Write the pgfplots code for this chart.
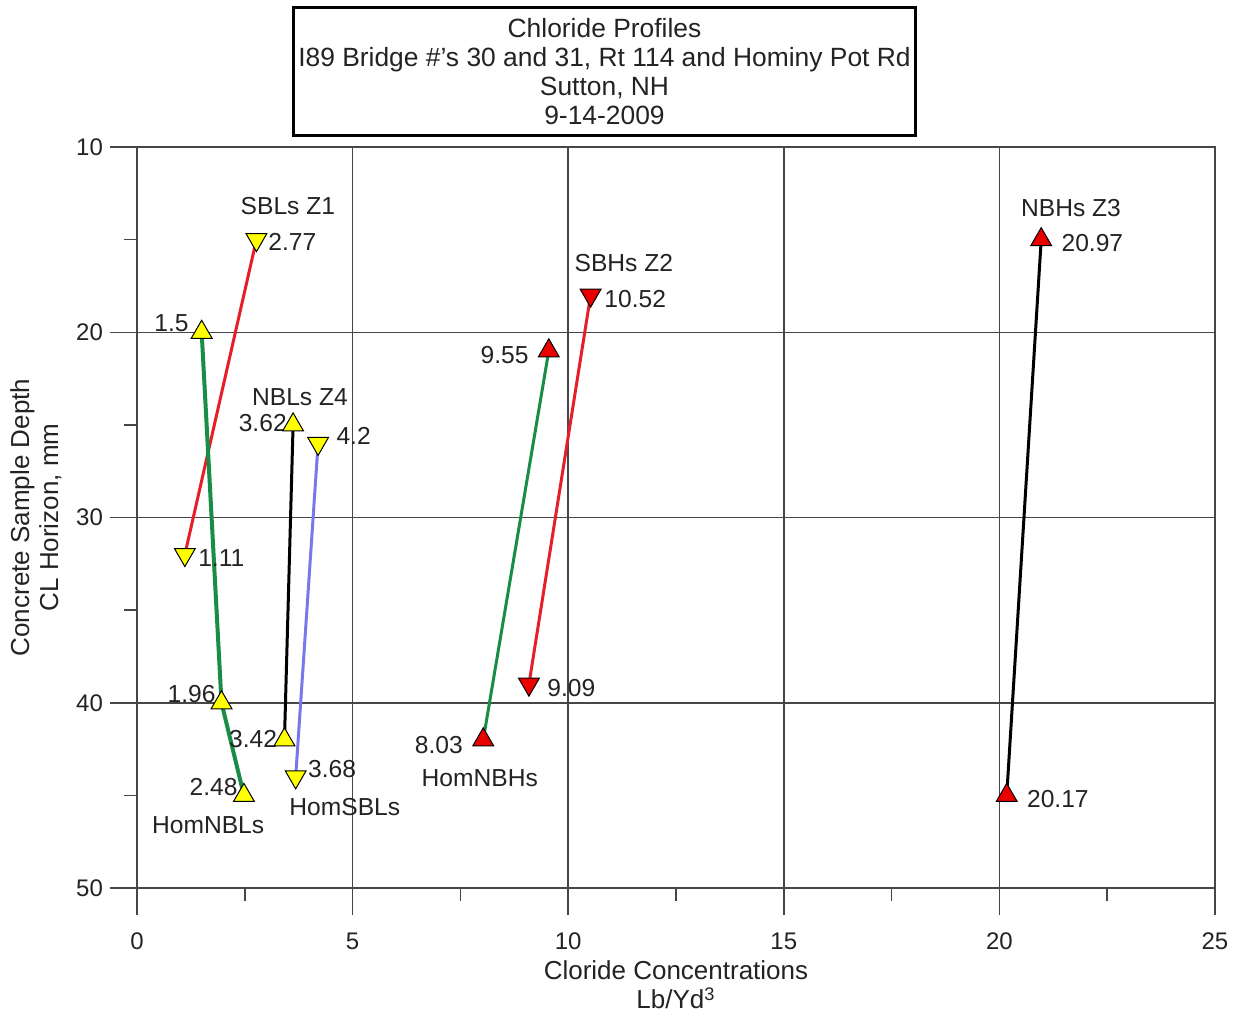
\documentclass[border=0pt]{standalone}
\usepackage{fontspec}
\setmainfont{Liberation Sans}
\usepackage{pgfplots}
\pgfplotsset{compat=1.18}
\definecolor{gridgray}{RGB}{70,70,70}
\definecolor{lred}{RGB}{230,30,40}
\definecolor{lgreen}{RGB}{25,140,70}
\definecolor{lblue}{RGB}{120,120,235}
\definecolor{myyellow}{RGB}{255,255,0}
\definecolor{myred}{RGB}{235,0,0}
\definecolor{txt}{RGB}{35,35,35}
\begin{document}
\begin{tikzpicture}
\useasboundingbox (-68.5pt,-65.5pt) rectangle (551pt,444pt);
\begin{axis}[
 at={(0,0)}, anchor=south west,
 scale only axis, width=539pt, height=370.5pt,
 xmin=0, xmax=25, ymin=10, ymax=50, y dir=reverse,
 xtick={0,5,...,25}, ytick={10,20,...,50},
 minor x tick num=1, minor y tick num=1,
 tick pos=left, tick align=outside,
 major tick length=13.5pt, minor tick length=6.5pt,
 grid=major,
 major grid style={gridgray, line width=0.75pt},
 axis line style={gridgray, line width=0.75pt},
 every tick/.style={gridgray, line width=0.75pt},
 tick label style={font=\fontsize{12}{14}\selectfont, text=txt},
 xticklabel style={yshift=-5.5pt},
 /pgf/number format/assume math mode=true,
 xlabel={Cloride Concentrations\\Lb/Yd\textsuperscript{3}},
 ylabel={Concrete Sample Depth\\CL Horizon, mm},
 label style={font=\fontsize{13}{14.5}\selectfont, align=center, text=txt},
 xlabel style={at={(axis description cs:0.5,-0.1309)}, anchor=center},
 ylabel style={at={(axis description cs:-0.0937,0.5)}, anchor=center},
 clip=false,
 mark size=6pt,
]
% SBLs Z1
\addplot[lred, line width=1.5pt, mark=triangle*, mark options={fill=myyellow, draw=black, line width=0.5pt, rotate=180}] coordinates {(2.77,15) (1.11,32)};
% HomNBLs
\addplot[lgreen, line width=2pt, mark=triangle*, mark options={fill=myyellow, draw=black, line width=0.5pt}] coordinates {(1.5,20) (1.96,40) (2.48,45)};
% NBLs Z4
\addplot[black, line width=1.5pt, mark=triangle*, mark options={fill=myyellow, draw=black, line width=0.5pt}] coordinates {(3.62,25) (3.42,42)};
% HomSBLs
\addplot[lblue, line width=1.5pt, mark=triangle*, mark options={fill=myyellow, draw=black, line width=0.5pt, rotate=180}] coordinates {(4.2,26) (3.68,44)};
% SBHs Z2
\addplot[lred, line width=1.5pt, mark=triangle*, mark options={fill=myred, draw=black, line width=0.5pt, rotate=180}] coordinates {(10.52,18) (9.09,39)};
% HomNBHs
\addplot[lgreen, line width=1.5pt, mark=triangle*, mark options={fill=myred, draw=black, line width=0.5pt}] coordinates {(9.55,21) (8.03,42)};
% NBHs Z3
\addplot[black, line width=1.5pt, mark=triangle*, mark options={fill=myred, draw=black, line width=0.5pt}] coordinates {(20.97,15) (20.17,45)};

\begin{scope}[every node/.style={font=\fontsize{12.3}{14}\selectfont, text=txt, inner sep=0pt}]
% value labels
\node[anchor=west, xshift=5.8pt, yshift=-1pt] at (axis cs:2.77,15) {2.77};
\node[anchor=west, xshift=6.5pt, yshift=-1.7pt] at (axis cs:1.11,32) {1.11};
\node[anchor=east, xshift=-6.3pt, yshift=4.5pt] at (axis cs:1.5,20) {1.5};
\node[anchor=east, xshift=-2.8pt, yshift=4.5pt] at (axis cs:1.96,40) {1.96};
\node[anchor=east, xshift=-3pt, yshift=4pt] at (axis cs:2.48,45) {2.48};
\node[anchor=east, xshift=-3pt, yshift=1pt] at (axis cs:3.62,25) {3.62};
\node[anchor=west, xshift=9pt, yshift=4pt] at (axis cs:4.2,26) {4.2};
\node[anchor=east, xshift=-3.5pt, yshift=0.5pt] at (axis cs:3.42,42) {3.42};
\node[anchor=west, xshift=6pt, yshift=4pt] at (axis cs:3.68,44) {3.68};
\node[anchor=west, xshift=6.7pt, yshift=-2pt] at (axis cs:10.52,18) {10.52};
\node[anchor=east, xshift=-9.9pt, yshift=-2pt] at (axis cs:9.55,21) {9.55};
\node[anchor=west, xshift=9pt, yshift=-2pt] at (axis cs:9.09,39) {9.09};
\node[anchor=east, xshift=-10pt, yshift=-2.5pt] at (axis cs:8.03,42) {8.03};
\node[anchor=west, xshift=10pt, yshift=-1.5pt] at (axis cs:20.97,15) {20.97};
\node[anchor=west, xshift=10pt, yshift=-2pt] at (axis cs:20.17,45) {20.17};
% series labels
\node at (axis cs:3.50,13.18) {SBLs Z1};
\node at (axis cs:1.65,46.6) {HomNBLs};
\node at (axis cs:3.78,23.5) {NBLs Z4};
\node at (axis cs:4.82,45.63) {HomSBLs};
\node at (axis cs:11.29,16.26) {SBHs Z2};
\node at (axis cs:7.95,44.06) {HomNBHs};
\node at (axis cs:21.66,13.29) {NBHs Z3};
\end{scope}
\end{axis}
\node[draw=black, line width=1.5pt, minimum width=310.5pt, minimum height=64pt, align=center, inner sep=0pt,
 font=\fontsize{13.2}{14.5}\selectfont, text=txt] at (233.75pt,408pt)
 {Chloride Profiles\\I89 Bridge \#'s 30 and 31, Rt 114 and Hominy Pot Rd\\Sutton, NH\\9-14-2009};
\end{tikzpicture}
\end{document}
